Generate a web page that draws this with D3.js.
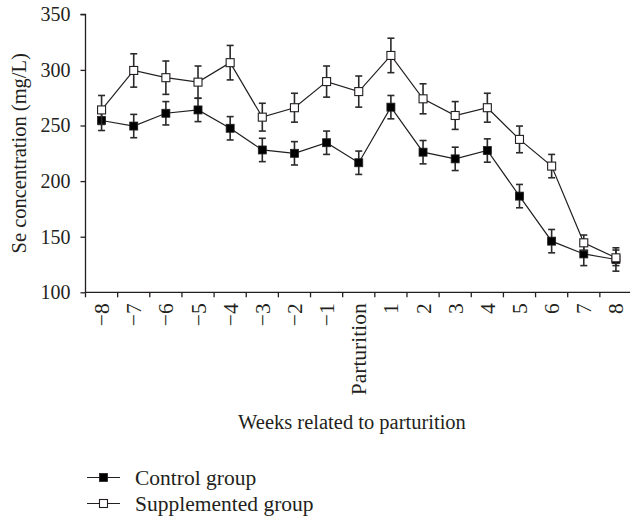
<!DOCTYPE html>
<html>
<head>
<meta charset="utf-8">
<script src="https://cdn.jsdelivr.net/npm/d3@7"></script>
<style>
  html, body { margin: 0; padding: 0; background: #fff; }
  text { font-family: "Liberation Serif", "Times New Roman", serif; fill: #231f20; }
</style>
</head>
<body>
<svg id="chart" width="630" height="518"></svg>
<script>
const weeks = ["\u22128","\u22127","\u22126","\u22125","\u22124","\u22123","\u22122","\u22121","Parturition","1","2","3","4","5","6","7","8"];
const controlValues = [254.5, 249.5, 261, 264, 247.5, 228, 225, 234.5, 216.5, 266.5, 226, 220, 227.5, 186.5, 146, 134.5, 129.5];
const controlErrors = [9, 10.5, 10.5, 10.5, 10.5, 10.5, 10.5, 10.5, 10.5, 10.5, 10.5, 10.5, 10.5, 10.5, 10.5, 10.5, 10.5];
const supplementedValues = [264, 299.5, 293, 289, 306.5, 257.5, 266, 289.5, 280.5, 313, 274, 259, 266, 237.5, 213.5, 144.5, 131];
const supplementedErrors = [13, 15, 15, 14.5, 15.5, 12.5, 13, 14, 14, 15.5, 13.5, 12.5, 13, 12, 10.5, 7, 7];
const yTicks = [100, 150, 200, 250, 300, 350];
const seriesNames = ["Control group", "Supplemented group"];

const svg = d3.select("#chart");
const x = d3.scaleBand().domain(weeks).range([85.5, 632]).padding(0);
const y = d3.scaleLinear().domain([100, 350]).range([292.3, 14.3]);

// Axes
const yAxis = svg.append("g").attr("transform", "translate(85.5,0)")
  .call(d3.axisLeft(y).tickValues(yTicks).tickSize(5).tickPadding(10));
yAxis.select(".domain").attr("d", `M-5,${y(350)}H0V${y(100)}`);
yAxis.selectAll("line, path").attr("stroke", "#231f20").attr("stroke-width", 1.3);
yAxis.selectAll("text").attr("font-size", 20).attr("font-family", "Liberation Serif").attr("fill", "#231f20");

const bounds = weeks.map(w => x(w)).concat([x(weeks[weeks.length-1]) + x.bandwidth()]);
const xg = svg.append("g");
xg.append("line").attr("x1", 85.5).attr("x2", 632).attr("y1", y(100)).attr("y2", y(100))
  .attr("stroke", "#231f20").attr("stroke-width", 1.3);
xg.selectAll("line.tick").data(bounds).join("line").attr("class", "tick")
  .attr("x1", d => d).attr("x2", d => d).attr("y1", y(100)).attr("y2", y(100) + 5)
  .attr("stroke", "#231f20").attr("stroke-width", 1.3);
xg.selectAll("text").data(weeks).join("text")
  .attr("transform", d => `translate(${x(d) + x.bandwidth()/2},${y(100) + 11}) rotate(-90)`)
  .attr("text-anchor", "end").attr("dy", "0.35em")
  .attr("font-size", 21.5).text(d => d);

// Axis titles
svg.append("text").attr("transform", `translate(26,${(y(100)+y(350))/2}) rotate(-90)`)
  .attr("text-anchor", "middle").attr("font-size", 20.5).text("Se concentration (mg/L)");
svg.append("text").attr("x", 352).attr("y", 428.5).attr("text-anchor", "middle")
  .attr("font-size", 20.5).text("Weeks related to parturition");

const cx = d => x(d) + x.bandwidth()/2;
const line = d3.line().x(d => cx(d.w)).y(d => y(d.v));

function drawSeries(values, errors, filled) {
  const data = weeks.map((w, i) => ({w, v: values[i], e: errors[i]}));
  const g = svg.append("g");
  g.append("path").datum(data).attr("d", line).attr("fill", "none")
    .attr("stroke", "#231f20").attr("stroke-width", 1.2);
  const eb = g.selectAll("g.eb").data(data).join("g").attr("class", "eb")
    .attr("stroke", "#2a2a2a").attr("stroke-width", 1.6);
  eb.append("line").attr("x1", d => cx(d.w)).attr("x2", d => cx(d.w))
    .attr("y1", d => y(d.v + d.e)).attr("y2", d => y(d.v - d.e));
  eb.append("line").attr("x1", d => cx(d.w) - 3.5).attr("x2", d => cx(d.w) + 3.5)
    .attr("y1", d => y(d.v + d.e)).attr("y2", d => y(d.v + d.e));
  eb.append("line").attr("x1", d => cx(d.w) - 3.5).attr("x2", d => cx(d.w) + 3.5)
    .attr("y1", d => y(d.v - d.e)).attr("y2", d => y(d.v - d.e));
  g.selectAll("rect").data(data).join("rect")
    .attr("x", d => cx(d.w) - 4).attr("y", d => y(d.v) - 4)
    .attr("width", 8).attr("height", 8)
    .attr("fill", filled ? "#000" : "#fff")
    .attr("stroke", "#231f20").attr("stroke-width", filled ? 0.8 : 1.1);
}
drawSeries(controlValues, controlErrors, true);
drawSeries(supplementedValues, supplementedErrors, false);

// Legend
const legend = svg.append("g");
seriesNames.forEach((name, i) => {
  const ly = 477.5 + i * 26;
  legend.append("line").attr("x1", 87).attr("x2", 120).attr("y1", ly).attr("y2", ly)
    .attr("stroke", "#231f20").attr("stroke-width", 1.2);
  legend.append("rect").attr("x", 103.5 - 4).attr("y", ly - 4).attr("width", 8).attr("height", 8)
    .attr("fill", i === 0 ? "#000" : "#fff").attr("stroke", "#231f20").attr("stroke-width", i === 0 ? 0.8 : 1.1);
  legend.append("text").attr("x", 135).attr("y", ly).attr("dy", "0.35em")
    .attr("font-size", 21.5).text(name);
});
</script>
</body>
</html>
